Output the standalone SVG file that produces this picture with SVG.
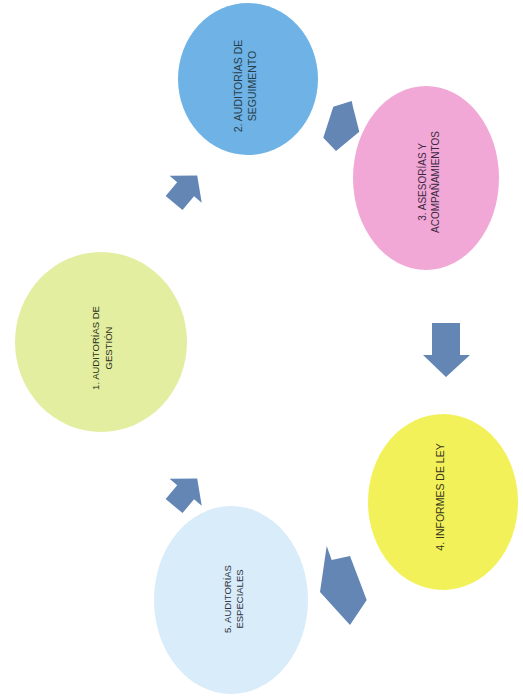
<svg xmlns="http://www.w3.org/2000/svg" width="523" height="698" viewBox="0 0 523 698">
<defs>
<polygon id="house" points="0,-19 21,-1 11,-1 11,17 -11,17 -11,-1 -21,-1"/>
</defs>
<style>
.lbl{font-family:"Liberation Sans","DejaVu Sans",sans-serif;font-size:10px;text-anchor:middle}
.arr{fill:#6386b5}
</style>
<rect width="523" height="698" fill="#ffffff"/>
<g id="connectors">
<use class="arr" href="#house" transform="translate(185,190) rotate(40)"/>
<polygon class="arr" points="333.3,106.7 351.7,101 353.3,108.3 359.3,131.7 336,151 323.3,137.7"/>
<polygon class="arr" points="432,323 460,323 460,355 470,355 446,377 423,355 432,355"/>
<polygon class="arr" points="326.7,546 331.7,560 350,556 366.7,600 350,625 320,592"/>
<use class="arr" href="#house" transform="translate(185,493) rotate(40)"/>
</g>
<g id="node1">
<ellipse cx="101" cy="342" rx="86" ry="90" fill="#e3eea0"/>
<text class="lbl" transform="translate(104,348) rotate(-90)" fill="#2a2e18" style="font-size:9.5px"><tspan x="0" y="-5.5">1. AUDITORÍAS DE</tspan><tspan x="0" y="7.5">GESTIÓN</tspan></text>
</g>
<g id="node2">
<ellipse cx="248" cy="79" rx="70" ry="76" fill="#6fb2e6"/>
<text class="lbl" transform="translate(245,86) rotate(-90)" fill="#263e4a" style="font-size:10.5px"><tspan x="0" y="-3.5">2. AUDITORÍAS DE</tspan><tspan x="0" y="10.5">SEGUIMENTO</tspan></text>
</g>
<g id="node3">
<ellipse cx="426" cy="178" rx="73" ry="92" fill="#f2a8d6"/>
<text class="lbl" transform="translate(430,182) rotate(-90)" fill="#3c2842"><tspan x="0" y="-4.5">3. ASESORÍAS Y</tspan><tspan x="0" y="8.5">ACOMPAÑAMIENTOS</tspan></text>
</g>
<g id="node4">
<ellipse cx="443" cy="502" rx="75" ry="88" fill="#f3f15a"/>
<text class="lbl" transform="translate(440,497) rotate(-90)" fill="#36361c" style="font-size:10.5px"><tspan x="0" y="3.5">4. INFORMES DE LEY</tspan></text>
</g>
<g id="node5">
<ellipse cx="231" cy="600" rx="77" ry="94" fill="#d9ecf9"/>
<text class="lbl" transform="translate(234,599) rotate(-90)" fill="#2c3240" style="font-size:9.5px"><tspan x="0" y="-3.5">5. AUDITORÍAS</tspan><tspan x="0" y="8.5">ESPECIALES</tspan></text>
</g>
</svg>
